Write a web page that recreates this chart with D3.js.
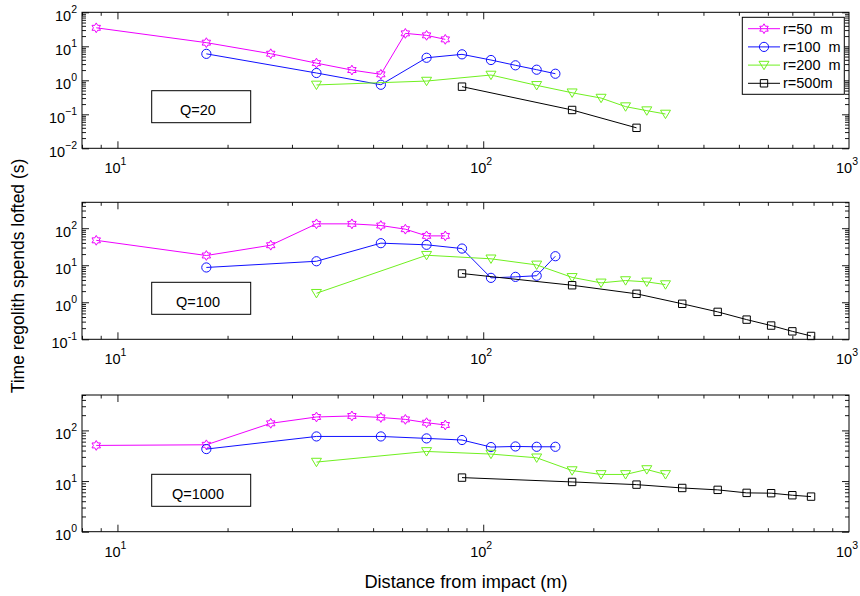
<!DOCTYPE html>
<html>
<head>
<meta charset="utf-8">
<script src="https://cdn.jsdelivr.net/npm/d3@7"></script>
<style>
  html, body { margin: 0; padding: 0; background: #fff; }
  svg { display: block; font-family: "Liberation Sans", Arial, Helvetica, sans-serif; }
</style>
</head>
<body>
<svg id="chart" width="860" height="596"></svg>
<script>
// ---------------- data ----------------
const dist50  = [8.75, 17.5, 26.25, 35, 43.75, 52.5, 61.25, 70, 78.75];
const dist100 = [17.5, 35, 52.5, 70, 87.5, 105, 122.5, 140, 157.5];
const dist200 = [35, 70, 105, 140, 175, 210, 245, 280, 315];
const dist500 = [87.5, 175, 262.5, 350, 437.5, 525, 612.5, 700, 787.5];

const seriesNames = ["r=50  m", "r=100  m", "r=200  m", "r=500m"];
const panelLabels = ["Q=20", "Q=100", "Q=1000"];

// Q = 20
const q20_r50  = [35, 12.8, 6.05, 3.2, 2.0, 1.5, 24, 21, 16];
const q20_r100 = [6.0, 1.64, 0.74, 4.6, 5.8, 3.95, 2.76, 2.05, 1.56];
const q20_r200 = [0.73, 0.95, 1.43, 0.71, 0.43, 0.30, 0.168, 0.128, 0.102];
const q20_r500 = [0.65, 0.134, 0.04];

// Q = 100
const q100_r50  = [47, 18.3, 34.7, 131, 131, 118, 94, 62, 62];
const q100_r100 = [8.7, 12.8, 39.4, 35.6, 28.2, 4.56, 4.85, 5.2, 17.5];
const q100_r200 = [1.75, 18.6, 14.9, 10.2, 4.7, 3.34, 3.86, 3.55, 3.0];
const q100_r500 = [5.97, 2.88, 1.69, 0.91, 0.55, 0.34, 0.235, 0.164, 0.123];

// Q = 1000
const q1000_r50  = [50.5, 52, 138, 184, 193, 180, 165, 142, 128];
const q1000_r100 = [42.8, 76, 76, 69.5, 64.6, 46.9, 48.2, 47.5, 47.5];
const q1000_r200 = [23.7, 38.4, 34.1, 28.8, 16.1, 13.5, 13.5, 16.9, 13.5];
const q1000_r500 = [11.7, 9.6, 8.5, 7.3, 6.7, 5.84, 5.76, 5.25, 4.93];

const xDomain = [8, 1000];
const xTickVals = [10, 100, 1000];
const xTickExp = ["1", "2", "3"];

const yDomains = [[0.01, 100], [0.1, 500], [1, 500]];
const yTickVals = [[0.01, 0.1, 1, 10, 100], [0.1, 1, 10, 100], [1, 10, 100]];
const yTickExp = [["\u22122", "\u22121", "0", "1", "2"], ["-1", "0", "1", "2"], ["0", "1", "2"]];

// ---------------- layout ----------------
const colors = ["#ee00ff", "#1010ff", "#70f020", "#000000"];
const markers = ["hexagram", "circle", "triangle", "square"];
const plotLeft = 82, plotRight = 849;
const panelTops = [12.3, 202.3, 395];
const panelBottoms = [148.3, 339.3, 531.7];

const svg = d3.select("#chart");
const x = d3.scaleLog().domain(xDomain).range([plotLeft, plotRight]);

function markerPath(type) {
  if (type === "circle") {
    const r = 4.6;
    return `M${-r},0A${r},${r} 0 1,0 ${r},0A${r},${r} 0 1,0 ${-r},0Z`;
  }
  if (type === "square") {
    const s = 3.7;
    return `M${-s},${-s}H${s}V${s}H${-s}Z`;
  }
  if (type === "triangle") {
    return `M-5,-3.8L5,-3.8L0,4.6Z`;
  }
  // hexagram
  const R = 4.9, r = R / Math.sqrt(3);
  const pts = [];
  for (let i = 0; i < 12; i++) {
    const a = -Math.PI / 2 + i * Math.PI / 6;
    const rr = i % 2 === 0 ? R : r;
    pts.push([rr * Math.cos(a), rr * Math.sin(a)]);
  }
  return "M" + pts.map(p => p[0].toFixed(2) + "," + p[1].toFixed(2)).join("L") + "Z";
}

function minorTicks(domain) {
  const out = [];
  const lo = Math.floor(Math.log10(domain[0])), hi = Math.ceil(Math.log10(domain[1]));
  for (let e = lo; e <= hi; e++) {
    for (let m = 2; m <= 9; m++) {
      const v = m * Math.pow(10, e);
      if (v >= domain[0] * 0.999 && v <= domain[1] * 1.001) out.push(v);
    }
  }
  return out;
}

const panelsData = [
  [q20_r50, q20_r100, q20_r200, q20_r500],
  [q100_r50, q100_r100, q100_r200, q100_r500],
  [q1000_r50, q1000_r100, q1000_r200, q1000_r500]
];
const dists = [dist50, dist100, dist200, dist500];

panelsData.forEach((pd, pi) => {
  const top = panelTops[pi], bottom = panelBottoms[pi];
  const y = d3.scaleLog().domain(yDomains[pi]).range([bottom, top]);
  const g = svg.append("g");

  const xMinor = minorTicks(xDomain);
  const yMinor = minorTicks(yDomains[pi]);
  const addAxis = (axis, tf) => {
    const a = g.append("g").attr("transform", tf).call(axis);
    a.select(".domain").remove();
    a.selectAll("line").attr("stroke", "#000").attr("stroke-width", 0.9);
    a.selectAll("text").remove();
  };
  addAxis(d3.axisBottom(x).tickValues(xTickVals.filter(v => v < xDomain[1])).tickSize(-7).tickFormat(""), `translate(0,${bottom})`);
  addAxis(d3.axisBottom(x).tickValues(xMinor).tickSize(-3.5).tickFormat(""), `translate(0,${bottom})`);
  addAxis(d3.axisTop(x).tickValues(xTickVals.filter(v => v < xDomain[1])).tickSize(-7).tickFormat(""), `translate(0,${top})`);
  addAxis(d3.axisTop(x).tickValues(xMinor).tickSize(-3.5).tickFormat(""), `translate(0,${top})`);
  addAxis(d3.axisLeft(y).tickValues(yTickVals[pi]).tickSize(-7).tickFormat(""), `translate(${plotLeft},0)`);
  addAxis(d3.axisLeft(y).tickValues(yMinor).tickSize(-4).tickFormat(""), `translate(${plotLeft},0)`);
  addAxis(d3.axisRight(y).tickValues(yTickVals[pi]).tickSize(-7).tickFormat(""), `translate(${plotRight},0)`);
  addAxis(d3.axisRight(y).tickValues(yMinor).tickSize(-4).tickFormat(""), `translate(${plotRight},0)`);

  g.append("rect").attr("x", plotLeft).attr("y", top)
    .attr("width", plotRight - plotLeft).attr("height", bottom - top)
    .attr("fill", "none").attr("stroke", "#000").attr("stroke-width", 1);

  xTickVals.forEach((v, i) => {
    const t = g.append("text").attr("x", x(v) - 2).attr("y", bottom + 25)
      .attr("text-anchor", "middle").attr("font-size", 14.5).attr("fill", "#000");
    t.append("tspan").text("10");
    t.append("tspan").attr("dy", -8).attr("font-size", 10.5).text(xTickExp[i]);
  });

  yTickVals[pi].forEach((v, i) => {
    const t = g.append("text").attr("x", plotLeft - 5).attr("y", y(v) + 8.5)
      .attr("text-anchor", "end").attr("font-size", 14.5).attr("fill", "#000");
    t.append("tspan").text("10");
    t.append("tspan").attr("dy", -8).attr("font-size", 10.5).text(yTickExp[pi][i]);
  });

  pd.forEach((vals, si) => {
    const pts = vals.map((v, k) => [dists[si][k], v]);
    const line = d3.line().x(d => x(d[0])).y(d => y(d[1]));
    g.append("path").attr("d", line(pts)).attr("fill", "none")
      .attr("stroke", colors[si]).attr("stroke-width", 1);
    g.selectAll(null).data(pts).enter().append("path")
      .attr("transform", d => `translate(${x(d[0])},${y(d[1])})`)
      .attr("d", markerPath(markers[si]))
      .attr("fill", "none").attr("stroke", colors[si]).attr("stroke-width", 1);
  });

  const bx = 151.7, bw = 99, bh = 32;
  const by = [90.7, 282.3, 474.3][pi];
  g.append("rect").attr("x", bx).attr("y", by).attr("width", bw).attr("height", bh)
    .attr("fill", "#fff").attr("stroke", "#000").attr("stroke-width", 1);
  g.append("text").attr("x", 198).attr("y", by + 24.5).attr("text-anchor", "middle")
    .attr("font-size", 14.5).attr("fill", "#000").text(panelLabels[pi]);
});

// legend (top panel)
const lg = svg.append("g");
lg.append("rect").attr("x", 742.3).attr("y", 17.3).attr("width", 102).attr("height", 77)
  .attr("fill", "#fff").attr("stroke", "#000").attr("stroke-width", 1);
seriesNames.forEach((name, i) => {
  const ly = 28.7 + i * 18.2;
  lg.append("line").attr("x1", 748).attr("x2", 780).attr("y1", ly).attr("y2", ly)
    .attr("stroke", colors[i]).attr("stroke-width", 1);
  lg.append("path").attr("transform", `translate(764,${ly})`).attr("d", markerPath(markers[i]))
    .attr("fill", "none").attr("stroke", colors[i]).attr("stroke-width", 1);
  lg.append("text").attr("x", 783).attr("y", ly + 5).attr("font-size", 14.5)
    .attr("fill", "#000").style("white-space", "pre").text(name);
});

// axis titles
svg.append("text").attr("x", 466).attr("y", 588).attr("text-anchor", "middle")
  .attr("font-size", 18.2).attr("fill", "#000").text("Distance from impact (m)");
svg.append("text").attr("transform", "translate(24,276) rotate(-90)").attr("text-anchor", "middle")
  .attr("font-size", 17.5).attr("fill", "#000").text("Time regolith spends lofted (s)");
</script>
</body>
</html>
